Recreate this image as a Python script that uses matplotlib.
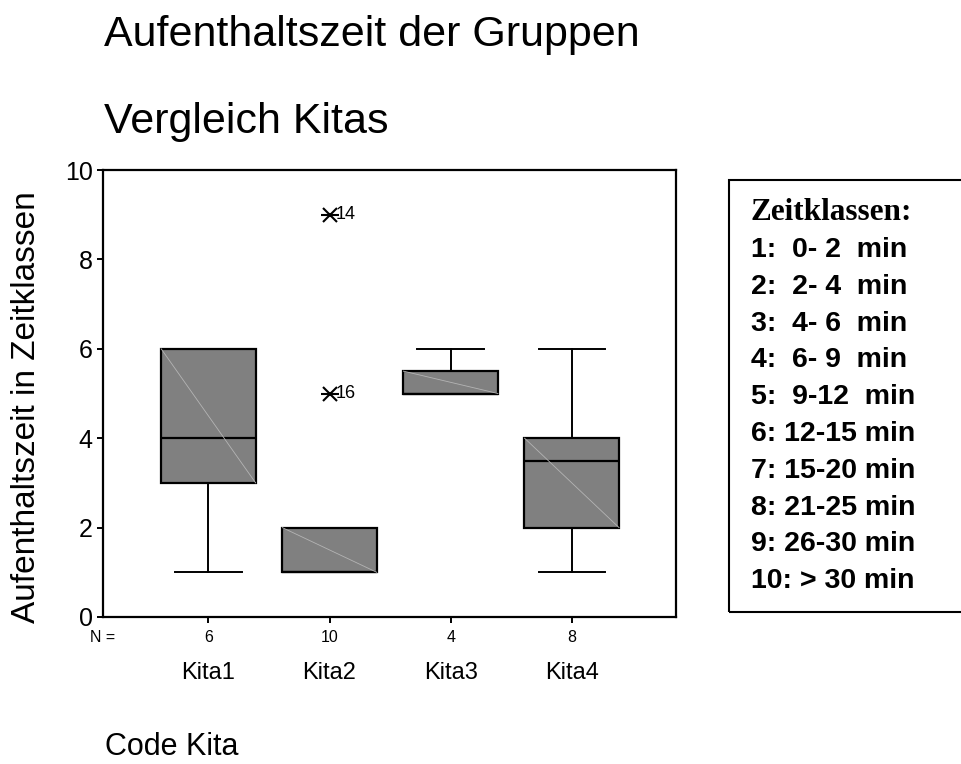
import matplotlib
matplotlib.use("Agg")
import matplotlib.pyplot as plt
from matplotlib.patches import Rectangle

# data
kitas = ["Kita1", "Kita2", "Kita3", "Kita4"]
n_counts = [6, 10, 4, 8]
whis_lo = [1, 1, 5, 1]
q1 = [3, 1, 5, 2]
median = [4, 1, 5, 3.5]
q3 = [6, 2, 5.5, 4]
whis_hi = [6, 2, 6, 6]
outlier_group = [2, 2]
outlier_value = [9, 5]
outlier_case = ["14", "16"]

legend_title = "Zeitklassen:"
legend_lines = ["1:  0- 2  min", "2:  2- 4  min", "3:  4- 6  min",
                "4:  6- 9  min", "5:  9-12  min", "6: 12-15 min",
                "7: 15-20 min", "8: 21-25 min", "9: 26-30 min",
                "10: > 30 min"]

W, H = 961, 764
plt.rcParams["font.family"] = ["Liberation Sans", "DejaVu Sans"]

fig = plt.figure(figsize=(W / 100, H / 100), dpi=100)
ax = fig.add_axes([103 / W, 1 - 617 / H, (676 - 103) / W, (617 - 170) / H])

pos = list(range(1, len(kitas) + 1))
stats = [dict(med=m, q1=a, q3=b, whislo=lo, whishi=hi, fliers=[])
         for m, a, b, lo, hi in zip(median, q1, q3, whis_lo, whis_hi)]
ax.bxp(stats, positions=pos, widths=0.785, capwidths=0.55, patch_artist=True,
       showfliers=False,
       boxprops=dict(facecolor="#808080", edgecolor="black", linewidth=1.6),
       medianprops=dict(color="black", linewidth=1.6),
       whiskerprops=dict(color="black", linewidth=1.4),
       capprops=dict(color="black", linewidth=1.4))

# faint diagonal inside each box (rendering artefact in the original)
for p, a, b in zip(pos, q1, q3):
    ax.plot([p - 0.39, p + 0.39], [b, a], color="#b4b4b4", lw=0.6, zorder=3)

# extreme values: asterisk with case number
for g, v, c in zip(outlier_group, outlier_value, outlier_case):
    ax.plot(g, v, marker="x", ms=10, mew=1.5, color="black", zorder=4)
    ax.plot(g, v, marker="_", ms=13, mew=1.5, color="black", zorder=4)
    ax.annotate(c, (g, v), xytext=(4.5, 0), textcoords="offset points",
                va="center", ha="left", fontsize=13)

ax.set_xlim(0.13, 4.86)
ax.set_ylim(0, 10)
ax.set_yticks([0, 2, 4, 6, 8, 10])
ax.set_xticks(pos)
ax.set_xticklabels([str(n) for n in n_counts])
ax.tick_params(axis="y", labelsize=18, length=4.5, width=1.4, pad=3)
ax.tick_params(axis="x", labelsize=11.5, length=4.5, width=1.4, pad=5)
for s in ax.spines.values():
    s.set_linewidth(1.6)

trans = ax.get_xaxis_transform()
ax.text(0, -21 / 447, "N =", transform=ax.transAxes, ha="center", va="center",
        fontsize=11.5)
for p, k in zip(pos, kitas):
    ax.text(p, -56 / 447, k, transform=trans, ha="center", va="center",
            fontsize=17)

fig.text(104 / W, 1 - 46 / H, "Aufenthaltszeit der Gruppen", fontsize=31,
         va="baseline", ha="left")
fig.text(104 / W, 1 - 133 / H, "Vergleich Kitas", fontsize=31,
         va="baseline", ha="left")
fig.text(105 / W, 1 - 755 / H, "Code Kita", fontsize=22,
         va="baseline", ha="left")
fig.text(27 / W, 1 - 407 / H, "Aufenthaltszeit in Zeitklassen", fontsize=24,
         rotation=90, va="center", ha="center")

# legend box with the time classes
fig.patches.append(Rectangle((729 / W, 1 - 612 / H), 260 / W, 432 / H,
                             transform=fig.transFigure, fill=False,
                             edgecolor="black", linewidth=1.5))
fig.text(751 / W, 1 - 220 / H, legend_title, fontsize=22.5,
         family=["Liberation Serif", "DejaVu Serif"], weight="bold",
         va="baseline", ha="left")
for i, line in enumerate(legend_lines):
    fig.text(751 / W, 1 - (257 + i * 36.8) / H, line, fontsize=20.5,
             weight="bold", va="baseline", ha="left")

fig.savefig("out.png", dpi=100)
